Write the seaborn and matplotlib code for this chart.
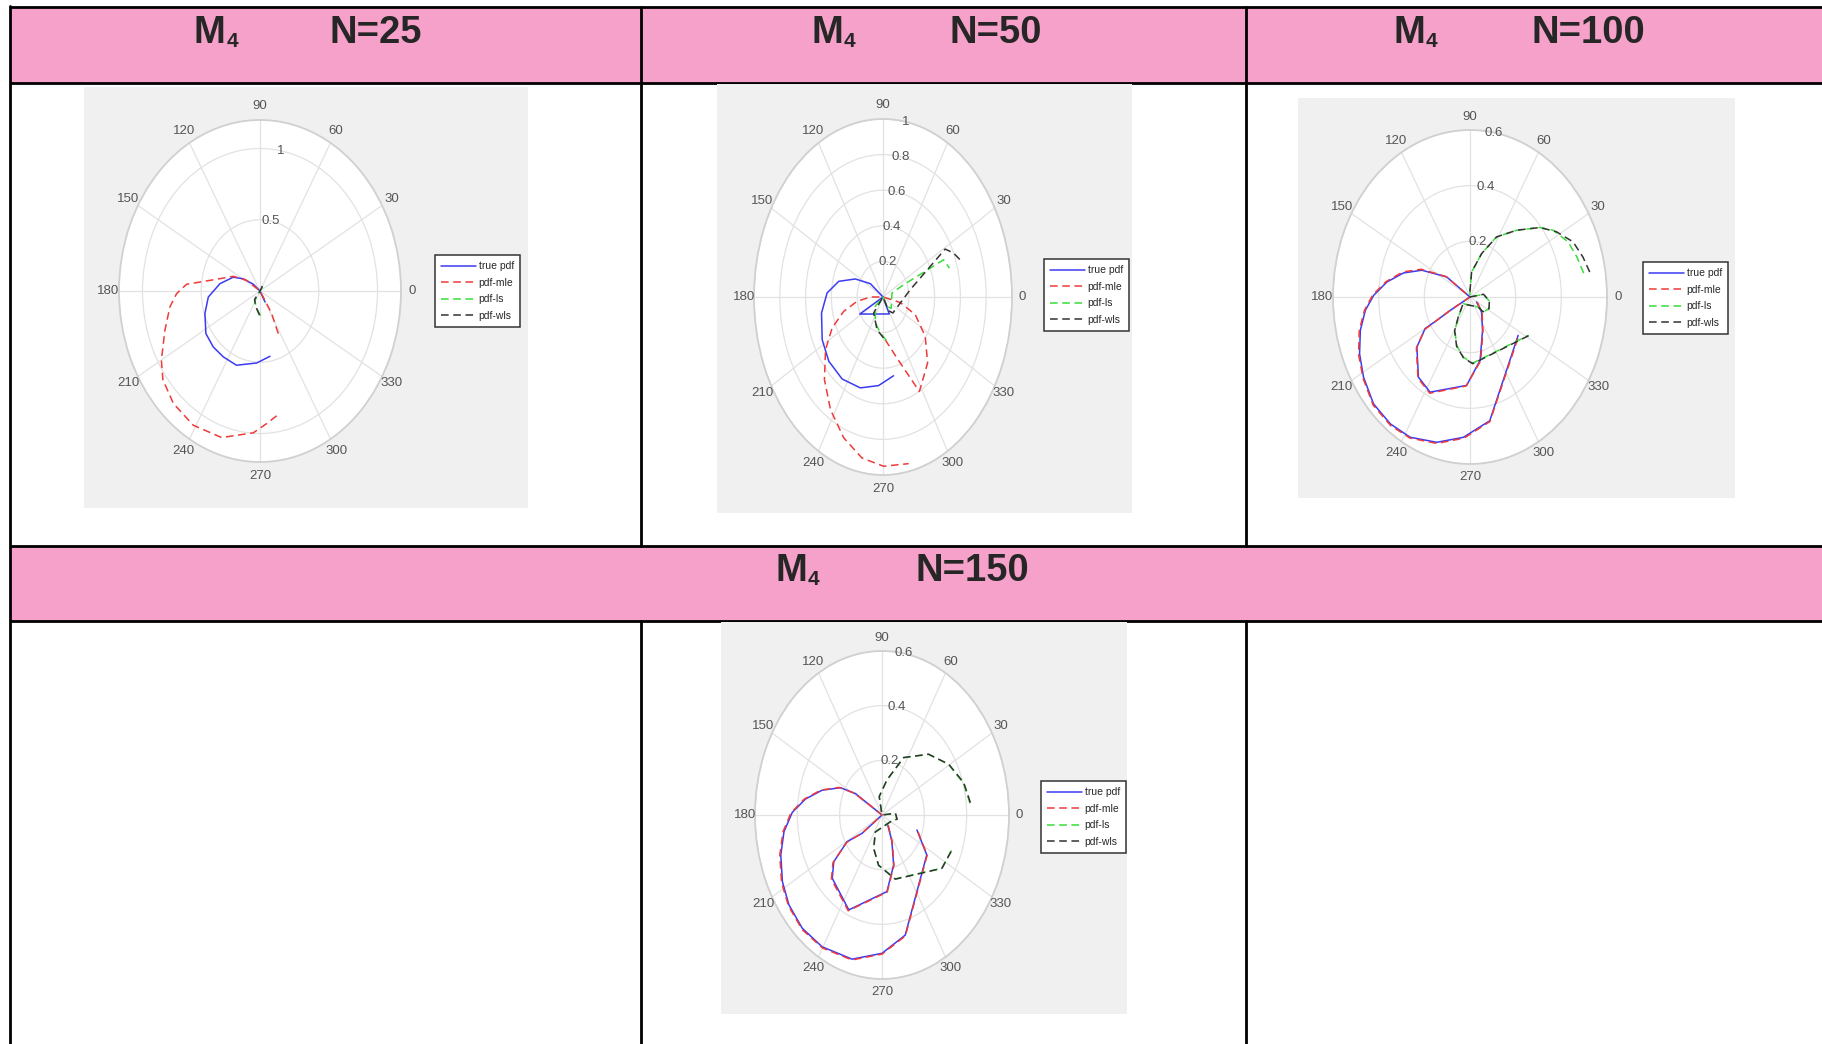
import numpy as np
import matplotlib
matplotlib.use("Agg")
import matplotlib.pyplot as plt
import seaborn as sns
from matplotlib import font_manager
from matplotlib.patches import Rectangle

sns.set_style("white")
_avail = {f.name for f in font_manager.fontManager.ttflist}
_fams = [f for f in ["Liberation Sans Narrow", "Liberation Sans", "DejaVu Sans"] if f in _avail]
plt.rcParams['font.family'] = _fams
HEAD_FONT = [f for f in ["Liberation Sans", "DejaVu Sans"] if f in _avail]

# ---------------- data ----------------
series_labels = ["true pdf", "pdf-mle", "pdf-ls", "pdf-wls"]
model_name = "M"
model_sub = "4"
sample_sizes = ["N=25", "N=50", "N=100", "N=150"]
theta_ticks = list(range(0, 360, 30))
r_ticks_25 = [0.5, 1.0]
r_ticks_50 = [0.2, 0.4, 0.6, 0.8, 1.0]
r_ticks_100 = [0.2, 0.4, 0.6]
r_ticks_150 = [0.2, 0.4, 0.6]
r_max = [1.2, 1.0, 0.6, 0.6]

# N=25
n25_true_theta = [299, 300, 140, 149, 157, 171.5, 185.5, 198.7, 213, 224.6, 236, 249, 266.8, 280.5]
n25_true_r = [0.088, 0.0, 0.074, 0.166, 0.248, 0.345, 0.442, 0.495, 0.549, 0.559, 0.558, 0.558, 0.506, 0.466]
n25_mle_theta = [297.5, 302, 302.6, 0, 146.7, 155.6, 168.8, 175.7, 181.5, 188.3, 198.8, 210, 217, 227, 238.9, 252.4, 266.7, 273.5, 280.9]
n25_mle_r = [0.337, 0.187, 0.105, 0.0, 0.136, 0.249, 0.405, 0.627, 0.71, 0.775, 0.855, 0.969, 1.035, 1.08, 1.1, 1.079, 0.997, 0.932, 0.876]
n25_ls_theta = [50, 0, 236.5, 253, 274]
n25_ls_r = [0.036, 0.0, 0.078, 0.117, 0.187]
n25_wls_theta = [60, 0, 232, 250, 270]
n25_wls_r = [0.04, 0.0, 0.075, 0.112, 0.178]

# N=50
n50_true_theta = [0, 297, 208, 0, 142.6, 154.7, 165.6, 177, 190.7, 207, 220.7, 235.5, 251, 266, 280.5]
n50_true_r = [0.0, 0.107, 0.204, 0.0, 0.123, 0.237, 0.354, 0.434, 0.485, 0.529, 0.554, 0.559, 0.54, 0.499, 0.45]
n50_mle_theta = [274, 287.5, 298, 313, 326, 338.4, 347, 0, 180, 186.9, 194.8, 203.8, 213.6, 225.6, 237.3, 249, 259.8, 270.3, 282]
n50_mle_r = [0.24, 0.36, 0.601, 0.507, 0.395, 0.269, 0.137, 0.0, 0.098, 0.202, 0.315, 0.431, 0.535, 0.649, 0.753, 0.848, 0.919, 0.951, 0.957]
n50_ls_theta = [276, 264, 248, 221, 0, 300, 315, 17.7, 23.4, 23.8, 24, 17.5]
n50_ls_r = [0.245, 0.203, 0.157, 0.079, 0.0, 0.06, 0.09, 0.073, 0.174, 0.344, 0.514, 0.54]
n50_wls_theta = [271, 256, 231, 0, 300, 310.5, 11, 23.8, 29.2, 24.3, 18]
n50_wls_r = [0.23, 0.19, 0.115, 0.0, 0.09, 0.118, 0.215, 0.372, 0.552, 0.6, 0.643]

# N=100
n100_true_theta = [328, 313, 294.6, 281, 267.3, 242.9, 231.9, 217.7, 210, 210, 209, 0, 144.8, 155.5, 163.5, 171.6, 179.2, 186, 194, 202.9, 211.7, 222.3, 232.6, 242.5, 254.4, 266.7, 281, 326.8]
n100_true_r = [0.034, 0.074, 0.132, 0.232, 0.318, 0.384, 0.366, 0.294, 0.227, 0.168, 0.1, 0.0, 0.125, 0.232, 0.304, 0.368, 0.422, 0.461, 0.495, 0.525, 0.548, 0.571, 0.574, 0.568, 0.542, 0.505, 0.453, 0.252]
n100_mle_theta = [330, 314, 295, 281.5, 267, 243, 232, 218, 210.5, 210, 209, 0, 145, 155, 163, 171.5, 179, 186, 194, 203, 212, 222.5, 233, 242.5, 254.5, 267, 281, 326.5]
n100_mle_r = [0.036, 0.076, 0.134, 0.234, 0.32, 0.388, 0.37, 0.298, 0.23, 0.17, 0.1, 0.0, 0.128, 0.236, 0.308, 0.372, 0.426, 0.465, 0.5, 0.53, 0.552, 0.575, 0.578, 0.571, 0.546, 0.508, 0.456, 0.255]
n100_ls_theta = [9.8, 17, 24.8, 33.4, 39.2, 49.6, 61.7, 71.9, 85.5, 90, 0, 9.4, 350.5, 333.4, 317, 315, 219.6, 234.7, 241, 251.6, 262.4, 272.9, 331.6]
n100_ls_r = [0.505, 0.49, 0.473, 0.436, 0.395, 0.315, 0.245, 0.164, 0.09, 0.024, 0.0, 0.059, 0.085, 0.094, 0.079, 0.051, 0.038, 0.088, 0.137, 0.184, 0.218, 0.238, 0.29]
n100_wls_theta = [9.7, 16.2, 23.7, 31.8, 39.2, 49.6, 61.7, 71.9, 85.5, 90, 0, 9.4, 350.5, 333.4, 317, 315, 219.6, 234.7, 241, 251.6, 262.4, 272.9, 331.6]
n100_wls_r = [0.532, 0.515, 0.493, 0.445, 0.395, 0.315, 0.245, 0.164, 0.09, 0.024, 0.0, 0.06, 0.086, 0.093, 0.078, 0.05, 0.04, 0.09, 0.139, 0.186, 0.22, 0.24, 0.292]

# N=150
n150_true_theta = [307, 295.7, 286.7, 274.8, 245.7, 224.6, 216.9, 210.6, 215.5, 0, 148, 148, 153, 162.2, 170.8, 178.7, 187.5, 197, 207.4, 216.8, 227.7, 239.6, 255, 270, 284, 325.4, 341.6]
n150_true_r = [0.046, 0.108, 0.191, 0.281, 0.381, 0.33, 0.285, 0.192, 0.115, 0.0, 0.074, 0.148, 0.22, 0.297, 0.366, 0.424, 0.467, 0.5, 0.53, 0.549, 0.56, 0.559, 0.546, 0.506, 0.453, 0.257, 0.174]
n150_mle_theta = [308, 296, 287, 275, 245.5, 224.5, 217, 211, 215, 0, 148, 148.5, 153.5, 162.5, 171, 179, 187.5, 197, 207.5, 217, 228, 240, 255, 270, 284, 325.5, 341.5]
n150_mle_r = [0.048, 0.11, 0.193, 0.283, 0.385, 0.335, 0.29, 0.196, 0.117, 0.0, 0.076, 0.152, 0.226, 0.303, 0.372, 0.43, 0.472, 0.505, 0.535, 0.553, 0.564, 0.562, 0.549, 0.509, 0.456, 0.259, 0.176]
n150_ls_theta = [5.9, 16.8, 30.5, 45.3, 64, 79.6, 101, 0, 5.6, 348, 328, 243, 252.3, 265, 285, 325.4, 339.9]
n150_ls_r = [0.418, 0.402, 0.365, 0.312, 0.233, 0.13, 0.068, 0.0, 0.063, 0.072, 0.046, 0.069, 0.128, 0.184, 0.242, 0.343, 0.355]
n150_wls_theta = [6.2, 17, 30.5, 45.3, 64, 79.6, 101, 0, 5.6, 348, 328, 243, 252.3, 265, 285, 325.4, 339.9]
n150_wls_r = [0.42, 0.404, 0.366, 0.313, 0.234, 0.131, 0.069, 0.0, 0.064, 0.073, 0.047, 0.07, 0.129, 0.185, 0.243, 0.344, 0.356]

panels_data = [
    [(n25_true_theta, n25_true_r), (n25_mle_theta, n25_mle_r), (n25_ls_theta, n25_ls_r), (n25_wls_theta, n25_wls_r)],
    [(n50_true_theta, n50_true_r), (n50_mle_theta, n50_mle_r), (n50_ls_theta, n50_ls_r), (n50_wls_theta, n50_wls_r)],
    [(n100_true_theta, n100_true_r), (n100_mle_theta, n100_mle_r), (n100_ls_theta, n100_ls_r), (n100_wls_theta, n100_wls_r)],
    [(n150_true_theta, n150_true_r), (n150_mle_theta, n150_mle_r), (n150_ls_theta, n150_ls_r), (n150_wls_theta, n150_wls_r)],
]
panels_rticks = [r_ticks_25, r_ticks_50, r_ticks_100, r_ticks_150]

# ---------------- layout / style ----------------
W, H = 1822, 1044
PINK = "#F5A1C9"
series_colors = ["#3b3bf2", "#ef3a3a", "#38dd38", "#333333"]
series_dashed = [False, True, True, True]

# polar centre (px), x half-axis, y half-axis (px), grey box, legend top-left
geom = [
    dict(c=(260, 291), rx=141, ry=171, box=(84, 87, 528, 508), leg=(435, 255)),
    dict(c=(883, 297), rx=129, ry=178, box=(717, 84, 1132, 513), leg=(1044, 259)),
    dict(c=(1470, 297), rx=137, ry=167, box=(1298, 98, 1735, 498), leg=(1643, 262)),
    dict(c=(882, 815), rx=127, ry=164, box=(721, 622, 1127, 1014), leg=(1041, 781)),
]
headers = [
    dict(xm=194, xn=330, base=43),
    dict(xm=811, xn=949, base=43),
    dict(xm=1393, xn=1531, base=43),
    dict(xm=775, xn=915, base=581),
]


def frect(x0, y0, x1, y1):
    return [x0 / W, 1 - y1 / H, (x1 - x0) / W, (y1 - y0) / H]


fig = plt.figure(figsize=(W / 100, H / 100), dpi=100)
fig.patch.set_facecolor("white")

# table
tab = fig.add_axes([0, 0, 1, 1])
tab.set_xlim(0, W)
tab.set_ylim(H, 0)
tab.axis("off")
tab.add_patch(Rectangle((10, 7), W - 10, 76, facecolor=PINK, edgecolor="none"))
tab.add_patch(Rectangle((10, 546), W - 10, 75, facecolor=PINK, edgecolor="none"))
lw_tab = 2.0
for y in (7, 83, 546, 621):
    tab.plot([10, W], [y, y], color="black", lw=lw_tab, solid_capstyle="butt")
tab.plot([10, 10], [6, H], color="black", lw=lw_tab)
for x in (641, 1246):
    tab.plot([x, x], [7, 546], color="black", lw=lw_tab)
    tab.plot([x, x], [621, H], color="black", lw=lw_tab)

for hd, label in zip(headers, sample_sizes):
    tab.text(hd["xm"], hd["base"], model_name, fontsize=27.5, fontweight="bold",
             family=HEAD_FONT, va="baseline", ha="left")
    tab.text(hd["xm"] + 33, hd["base"] + 4, model_sub, fontsize=15, fontweight="bold",
             family=HEAD_FONT, va="baseline", ha="left")
    tab.text(hd["xn"], hd["base"], label, fontsize=27.5, fontweight="bold",
             family=HEAD_FONT, va="baseline", ha="left")

# polar panels
for data, rticks, rmax, g in zip(panels_data, panels_rticks, r_max, geom):
    bx = fig.add_axes(frect(*g["box"]))
    bx.set_facecolor("#F0F0F0")
    bx.set_xticks([])
    bx.set_yticks([])
    for s in bx.spines.values():
        s.set_visible(False)

    cx, cy = g["c"]
    ax = fig.add_axes(frect(cx - g["rx"], cy - g["ry"], cx + g["rx"], cy + g["ry"]),
                      projection="polar")
    ax.set_aspect("auto")
    ax.set_facecolor("white")
    ax.set_ylim(0, rmax)
    ax.set_thetagrids(theta_ticks, labels=[""] * len(theta_ticks))
    ax.set_rgrids(rticks, labels=[""] * len(rticks))
    ax.set_ylim(0, rmax)
    ax.grid(True, color="#E2E2E2", lw=0.9)
    ax.spines["polar"].set_color("#D0D0D0")
    ax.spines["polar"].set_linewidth(1.3)
    ax.tick_params(pad=0, length=0)

    handles = []
    for (th, rr), col, dashed in zip(data, series_colors, series_dashed):
        sns.lineplot(x=np.deg2rad(th), y=rr, ax=ax, sort=False, estimator=None,
                     color=col, linewidth=1.1)
        ln = ax.lines[-1]
        if dashed:
            ln.set_dashes([5, 3])
        handles.append(ln)
    ax.set_xlabel("")
    ax.set_ylabel("")
    ax.set_ylim(0, rmax)

    for t in theta_ticks:
        ax.text(np.deg2rad(t), 1.08 * rmax, str(t), ha="center", va="center",
                fontsize=9.5, color="#555555", clip_on=False)
    for rv in rticks:
        ax.text(np.deg2rad(80), rv, f"{rv:g}", ha="center", va="center",
                fontsize=9.5, color="#555555", clip_on=False)

    lx, ly = g["leg"]
    leg = fig.legend(handles, series_labels, loc="upper left",
                     bbox_to_anchor=(lx / W, 1 - ly / H), bbox_transform=fig.transFigure,
                     frameon=True, fancybox=False, framealpha=1, edgecolor="#333333",
                     fontsize=7.5, handlelength=3.3, handletextpad=0.3, borderpad=0.6,
                     labelspacing=0.63, borderaxespad=0)
    leg.get_frame().set_linewidth(1.1)

fig.savefig("out.png", dpi=100, facecolor="white")
